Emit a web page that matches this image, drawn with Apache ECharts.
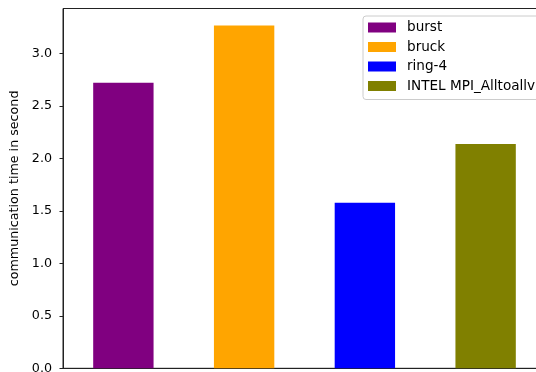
<!DOCTYPE html>
<html>
<head>
<meta charset="utf-8">
<script src="https://cdn.jsdelivr.net/npm/echarts@6/dist/echarts.min.js"></script>
<style>
  html, body { margin: 0; padding: 0; background: #fff; }
  #chart { width: 536px; height: 372px; }
</style>
</head>
<body>
<div id="chart"></div>
<script>
// Communication time per all-to-all algorithm
const categories = ['burst', 'bruck', 'ring-4', 'INTEL MPI_Alltoallv'];
const times = [2.72, 3.265, 1.578, 2.137];
const colors = ['#800080', '#ffa500', '#0000ff', '#808000'];
const yTicks = [0, 0.5, 1.0, 1.5, 2.0, 2.5, 3.0];
const yMax = 3.428;

const FONT = 'DejaVu Sans';

// One series per algorithm so each appears in the legend; bars share a slot.
const series = categories.map((name, i) => ({
  name: name,
  type: 'bar',
  barWidth: '50%',
  barGap: '-100%',
  itemStyle: { color: colors[i] },
  data: categories.map((c, j) => (j === i ? times[i] : null))
}));

const chart = echarts.init(document.getElementById('chart'), null, { renderer: 'canvas' });
chart.setOption({
  animation: false,
  textStyle: { fontFamily: FONT },
  grid: {
    left: 63, top: 8.5, width: 483, height: 359.8,
    outerBoundsMode: 'none',
    containLabel: false,
    show: true, borderColor: '#222', borderWidth: 1, backgroundColor: 'transparent'
  },
  legend: {
    orient: 'vertical',
    left: 363, top: 16,
    padding: [4, 10, 6, 5],
    itemWidth: 28, itemHeight: 10, itemGap: 4.5,
    icon: 'rect',
    backgroundColor: 'rgba(255,255,255,0.8)',
    borderColor: '#cccccc', borderWidth: 1, borderRadius: 3,
    textStyle: { fontFamily: FONT, fontSize: 13.6, color: '#000', lineHeight: 15, padding: [0, 0, 0, 6] },
    data: categories
  },
  xAxis: {
    type: 'category',
    data: categories,
    axisLine: { lineStyle: { color: '#222', width: 1 } },
    axisTick: { alignWithLabel: true, length: 3.5, lineStyle: { color: '#222' } },
    axisLabel: { show: false },
    splitLine: { show: false }
  },
  yAxis: {
    type: 'value',
    min: 0, max: yMax,
    name: 'communication time in second',
    nameLocation: 'middle',
    nameRotate: 90,
    nameGap: 38,
    nameTextStyle: { fontFamily: FONT, fontSize: 12.7, color: '#000' },
    axisLine: { show: true, lineStyle: { color: '#222', width: 1 } },
    axisTick: { show: true, length: 3.5, customValues: yTicks, lineStyle: { color: '#222' } },
    axisLabel: {
      customValues: yTicks,
      margin: 11,
      fontFamily: FONT, fontSize: 12.7, color: '#000',
      formatter: v => v.toFixed(1)
    },
    splitLine: { show: false }
  },
  series: series
});
</script>
</body>
</html>
